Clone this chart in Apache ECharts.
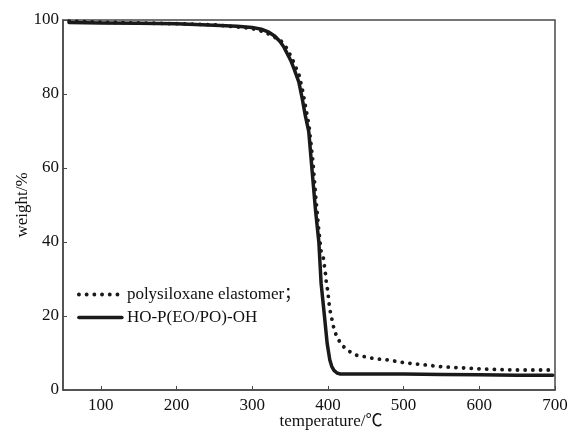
<!DOCTYPE html>
<html>
<head>
<meta charset="utf-8">
<style>
  html, body { margin: 0; padding: 0; background: #fff; }
  #chart { width: 569px; height: 430px; }
</style>
<script src="https://cdn.jsdelivr.net/npm/echarts@6/dist/echarts.min.js"></script>
</head>
<body>
<div id="chart"></div>
<script>
// TGA curves: temperature (℃) vs residual weight (%)
const seriesNames = ['polysiloxane elastomer；', 'HO-P(EO/PO)-OH'];

const elastomerTemp = [58, 100, 150, 200, 250, 297, 308, 320, 328, 337, 346, 355, 362, 367, 371, 375, 380, 384, 388,
  391, 394, 395.5, 397, 398, 400, 401, 402.5, 408, 412, 419, 428.6, 438.8, 448.5, 458.6, 469.6, 480.6, 491.7,
  500, 550, 600, 650, 697];
const elastomerWeight = [99.7, 99.4, 99.2, 99.0, 98.7, 97.8, 97.3, 96.4, 95.5, 94.6, 92.3, 88.5, 85.0, 80.5, 76.0, 71.5, 62.0, 52.0, 43.0,
  37.4, 35.6, 33.3, 31.1, 28.8, 26.6, 24.3, 21.8, 16.5, 14.2, 12.0, 10.4, 9.3, 9.0, 8.6, 8.3, 8.1, 7.7,
  7.4, 6.3, 5.7, 5.4, 5.4];

const polyetherTemp = [58, 100, 150, 200, 250, 280, 300, 312, 322, 330, 337, 342, 346, 351, 355, 361.5, 366, 370, 374.7,
  379, 383.6, 388, 391, 395.5, 399, 402.5, 405, 408, 412, 416.7, 450, 500, 550, 600, 650, 697];
const polyetherWeight = [99.3, 99.2, 99.1, 99.0, 98.6, 98.3, 98.0, 97.5, 96.7, 95.6, 94.1, 92.6, 91.0, 89.0, 86.9, 83.3, 78.8, 74.3, 69.8,
  59.5, 48.6, 40.0, 28.8, 19.8, 12.6, 8.1, 6.4, 5.3, 4.6, 4.3, 4.3, 4.3, 4.2, 4.1, 4.0, 4.0];

const xTicks = [100, 200, 300, 400, 500, 600, 700];
const yTicks = [0, 20, 40, 60, 80, 100];

const pair = (xs, ys) => xs.map((x, i) => [x, ys[i]]);

const serif = '"Liberation Serif", "Times New Roman", "Noto Sans CJK SC", serif';
const ink = '#1a1a1a';
const frame = '#4a4a4a';

const dottedStyle = { color: ink, width: 3.8, type: [0.1, 7.6], cap: 'round' };
const solidStyle = { color: ink, width: 3.5, type: 'solid', cap: 'round', join: 'round' };

const chart = echarts.init(document.getElementById('chart'));
chart.setOption({
  animation: false,
  backgroundColor: '#fff',
  textStyle: { fontFamily: serif },
  grid: {
    left: 63, right: 14, top: 20, bottom: 40,
    outerBoundsMode: 'none',
    containLabel: false,
    show: true, borderColor: frame, borderWidth: 1.5, backgroundColor: 'transparent'
  },
  legend: {
    orient: 'vertical',
    left: 77, top: 286,
    padding: 0,
    itemGap: 6,
    itemWidth: 43,
    itemHeight: 14,
    itemStyle: { opacity: 0, borderWidth: 0 },
    textStyle: { fontFamily: serif, fontSize: 17, color: '#111' },
    data: [
      { name: seriesNames[0], lineStyle: dottedStyle },
      { name: seriesNames[1], lineStyle: solidStyle }
    ]
  },
  xAxis: {
    type: 'value',
    min: 50, max: 700,
    name: 'temperature/℃',
    nameLocation: 'middle',
    nameGap: 23,
    nameMoveOverlap: false,
    nameTextStyle: { fontFamily: serif, fontSize: 17, color: '#111', padding: [0, 0, 0, 44] },
    axisLine: { show: true, lineStyle: { color: frame, width: 1.5 } },
    axisTick: { show: true, inside: true, length: 4, customValues: xTicks, lineStyle: { color: frame } },
    axisLabel: { customValues: xTicks, fontFamily: serif, fontSize: 17, color: '#111', margin: 7 },
    splitLine: { show: false }
  },
  yAxis: {
    type: 'value',
    min: 0, max: 100, interval: 20,
    name: 'weight/%',
    nameLocation: 'middle',
    nameGap: 32,
    nameMoveOverlap: false,
    nameTextStyle: { fontFamily: serif, fontSize: 17, color: '#111' },
    axisLine: { show: true, lineStyle: { color: frame, width: 1.5 } },
    axisTick: { show: true, inside: true, length: 4, lineStyle: { color: frame } },
    axisLabel: { customValues: yTicks, fontFamily: serif, fontSize: 17, color: '#111', margin: 4 },
    splitLine: { show: false }
  },
  series: [
    {
      name: seriesNames[0],
      type: 'line',
      symbol: 'none',
      data: pair(elastomerTemp, elastomerWeight),
      lineStyle: dottedStyle,
      itemStyle: { color: ink },
      z: 3
    },
    {
      name: seriesNames[1],
      type: 'line',
      symbol: 'none',
      data: pair(polyetherTemp, polyetherWeight),
      lineStyle: solidStyle,
      itemStyle: { color: ink },
      z: 2
    }
  ]
});
</script>
</body>
</html>
